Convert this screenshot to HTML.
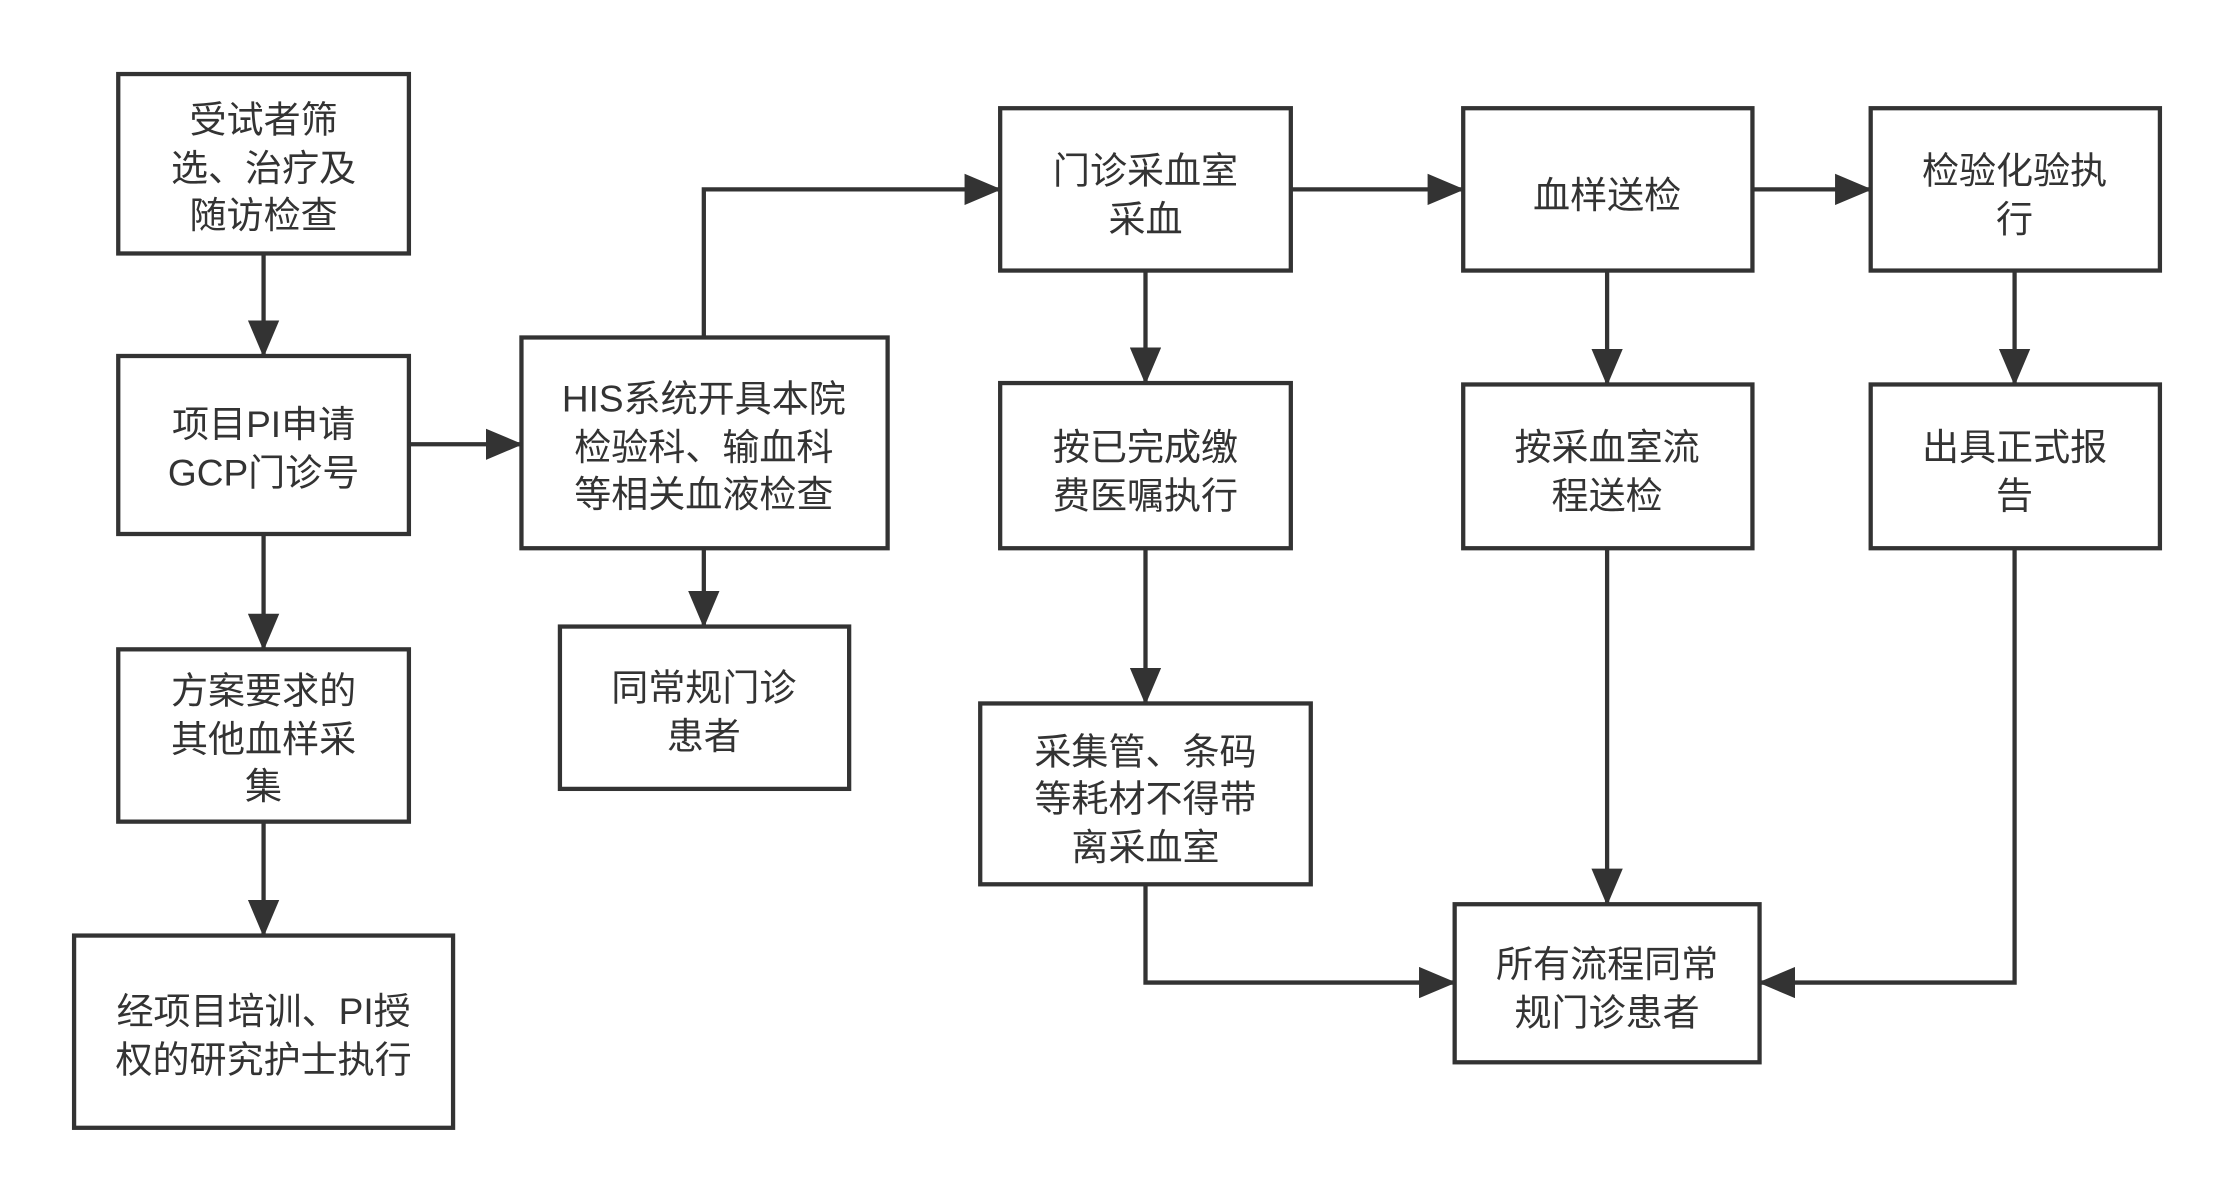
<!DOCTYPE html>
<html><head><meta charset="utf-8"><style>
html,body{margin:0;padding:0;background:#fff;width:2234px;height:1199px;overflow:hidden;}
svg{display:block;}
text{font-family:"Liberation Sans","Noto Sans CJK SC",sans-serif;font-size:26px;fill:#333;text-anchor:middle;}
</style></head><body>
<svg width="2234" height="1199" viewBox="0 0 1568 842" preserveAspectRatio="none" xmlns="http://www.w3.org/2000/svg">
<defs>
<marker id="b" markerWidth="26" markerHeight="22" refX="25" refY="11" orient="auto" markerUnits="userSpaceOnUse"><path d="M0,0 L26,11 L0,22 z" fill="#333"/></marker>
</defs>
<g fill="#fff" stroke="#333" stroke-width="3">
<rect x="83" y="52" width="204" height="126"/>
<rect x="83" y="250" width="204" height="125"/>
<rect x="83" y="456" width="204" height="121"/>
<rect x="52" y="657" width="266" height="135"/>
<rect x="366" y="237" width="257" height="148"/>
<rect x="393" y="440" width="203" height="114"/>
<rect x="702" y="76" width="204" height="114"/>
<rect x="702" y="269" width="204" height="116"/>
<rect x="688" y="494" width="232" height="127"/>
<rect x="1027" y="76" width="203" height="114"/>
<rect x="1027" y="270" width="203" height="115"/>
<rect x="1021" y="635" width="214" height="111"/>
<rect x="1313" y="76" width="203" height="114"/>
<rect x="1313" y="270" width="203" height="115"/>
</g>
<g fill="none" stroke="#333" stroke-width="3" marker-end="url(#b)">
<path d="M185 178V250"/>
<path d="M287 312H366"/>
<path d="M185 375V456"/>
<path d="M185 577V657"/>
<path d="M494 237V133H702"/>
<path d="M494 385V440"/>
<path d="M906 133H1027"/>
<path d="M1230 133H1313"/>
<path d="M804 190V269"/>
<path d="M804 385V494"/>
<path d="M1128 190V270"/>
<path d="M1128 385V635"/>
<path d="M804 621V690H1021"/>
<path d="M1414 385V690H1235"/>
<path d="M1414 190V270"/>
</g>
<text x="185" y="93">受试者筛</text><text x="185" y="127">选、治疗及</text><text x="185" y="160">随访检查</text>
<text x="185" y="307">项目PI申请</text><text x="185" y="341">GCP门诊号</text>
<text x="185" y="494">方案要求的</text><text x="185" y="528">其他血样采</text><text x="185" y="561">集</text>
<text x="185" y="719">经项目培训、PI授</text><text x="185" y="753">权的研究护士执行</text>
<text x="494" y="289">HIS系统开具本院</text><text x="494" y="323">检验科、输血科</text><text x="494" y="356">等相关血液检查</text>
<text x="494" y="492">同常规门诊</text><text x="494" y="526">患者</text>
<text x="804" y="129">门诊采血室</text><text x="804" y="163">采血</text>
<text x="804" y="323">按已完成缴</text><text x="804" y="357">费医嘱执行</text>
<text x="804" y="537">采集管、条码</text><text x="804" y="570">等耗材不得带</text><text x="804" y="604">离采血室</text>
<text x="1128" y="146">血样送检</text>
<text x="1128" y="323">按采血室流</text><text x="1128" y="357">程送检</text>
<text x="1128" y="686">所有流程同常</text><text x="1128" y="720">规门诊患者</text>
<text x="1414" y="129">检验化验执</text><text x="1414" y="163">行</text>
<text x="1414" y="323">出具正式报</text><text x="1414" y="357">告</text>
</svg>
</body></html>
